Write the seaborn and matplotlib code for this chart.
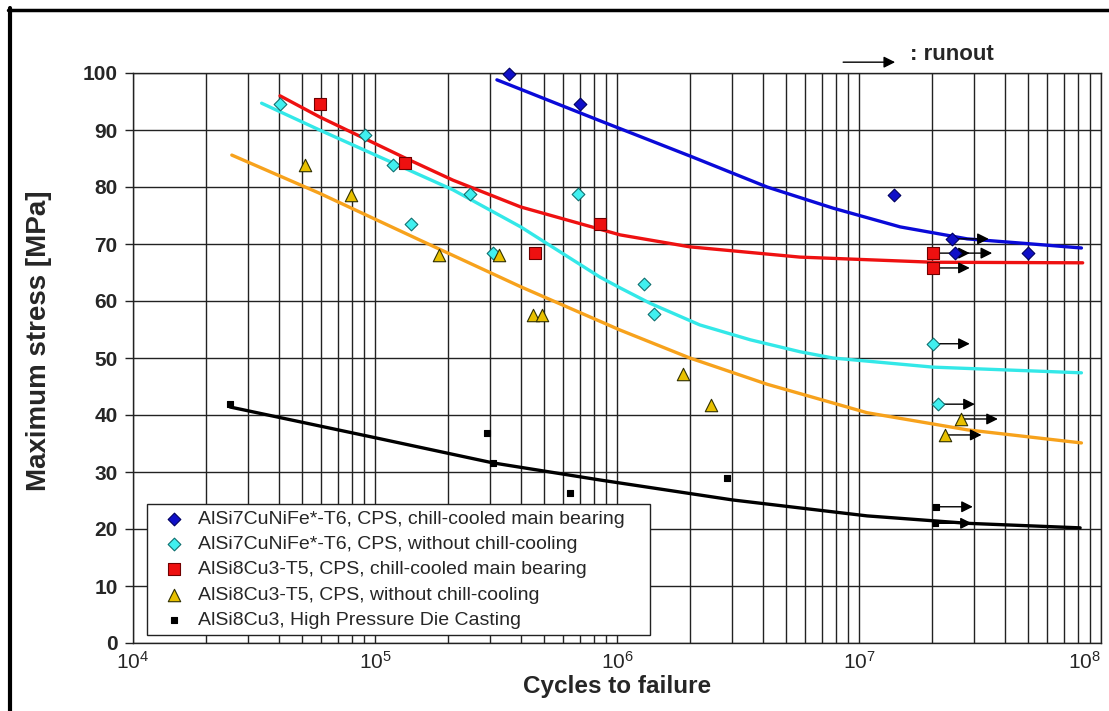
import numpy as np
import pandas as pd
import seaborn as sns
import matplotlib.pyplot as plt
from matplotlib.lines import Line2D

# measured points (cycles, stress [MPa]); runout = test stopped without failure
blue_n = [3.58e5, 7.03e5, 1.40e7, 2.42e7, 2.50e7, 5.0e7]
blue_s = [99.8, 94.6, 78.6, 70.9, 68.4, 68.4]
blue_runout = [False, False, False, True, True, False]

cyan_n = [4.05e4, 9.1e4, 1.19e5, 1.41e5, 2.47e5, 3.07e5, 6.9e5, 1.29e6, 1.42e6, 2.02e7, 2.12e7]
cyan_s = [94.6, 89.1, 83.9, 73.5, 78.8, 68.4, 78.8, 63.0, 57.7, 52.5, 41.9]
cyan_runout = [False] * 9 + [True, True]

red_n = [5.93e4, 1.33e5, 4.58e5, 8.5e5, 2.02e7, 2.02e7]
red_s = [94.6, 84.2, 68.4, 73.5, 68.4, 65.8]
red_runout = [False, False, False, False, True, True]

yel_n = [5.14e4, 7.96e4, 1.84e5, 3.25e5, 4.5e5, 4.9e5, 1.87e6, 2.44e6, 2.64e7, 2.26e7]
yel_s = [83.9, 78.6, 68.1, 68.1, 57.5, 57.5, 47.2, 41.8, 39.3, 36.5]
yel_runout = [False] * 8 + [True, True]

blk_n = [2.52e4, 2.9e5, 3.07e5, 6.4e5, 2.85e6, 2.08e7, 2.06e7]
blk_s = [41.9, 36.8, 31.6, 26.3, 28.9, 23.9, 21.0]
blk_runout = [False] * 5 + [True, True]

# fitted trend curves
blue_fit_n = [3.19e5, 8.3e5, 2.04e6, 4.17e6, 7.8e6, 1.48e7, 2.8e7, 5.2e7, 8.3e7]
blue_fit_s = [98.8, 91.8, 85.3, 80.0, 76.3, 73.0, 70.9, 70.0, 69.3]
red_fit_n = [4.05e4, 5.9e4, 1.33e5, 2.1e5, 4.0e5, 1.03e6, 2.0e6, 5.7e6, 2.02e7, 8.4e7]
red_fit_s = [96.0, 92.3, 85.1, 81.2, 76.5, 71.6, 69.5, 67.7, 66.8, 66.7]
cyan_fit_n = [3.4e4, 5.9e4, 1.12e5, 2.1e5, 4.0e5, 8.5e5, 1.03e6, 1.37e6, 2.2e6, 3.55e6,
              5.7e6, 7.8e6, 2.02e7, 8.3e7]
cyan_fit_s = [94.7, 90.0, 84.7, 79.5, 73.0, 64.2, 62.3, 59.6, 55.8, 53.2,
              51.1, 50.0, 48.4, 47.4]
yel_fit_n = [2.56e4, 5.9e4, 1.53e5, 4.0e5, 1.03e6, 2.0e6, 4.17e6, 1.08e7, 2.8e7, 8.3e7]
yel_fit_s = [85.6, 78.9, 70.7, 62.5, 54.9, 50.0, 45.4, 40.4, 37.4, 35.1]
blk_fit_n = [2.52e4, 9.8e4, 3.07e5, 8.5e5, 3.0e6, 1.08e7, 2.8e7, 8.2e7]
blk_fit_s = [41.4, 36.1, 31.6, 28.6, 25.1, 22.3, 21.0, 20.2]

labels = [
    "AlSi7CuNiFe*-T6, CPS, chill-cooled main bearing",
    "AlSi7CuNiFe*-T6, CPS, without chill-cooling",
    "AlSi8Cu3-T5, CPS, chill-cooled main bearing",
    "AlSi8Cu3-T5, CPS, without chill-cooling",
    "AlSi8Cu3, High Pressure Die Casting",
]

sns.set_theme(style="white")
plt.rcParams["font.family"] = ["Liberation Sans", "DejaVu Sans"]
plt.rcParams["mathtext.fontset"] = "custom"
plt.rcParams["mathtext.rm"] = "Liberation Sans"
plt.rcParams["mathtext.default"] = "regular"

fig = plt.figure(figsize=(11.09, 7.11), dpi=100)
ax = fig.add_axes([133 / 1109, 68 / 711, 968 / 1109, 570 / 711])
ax.set_xscale("log")

# trend lines
fits = [
    (blue_fit_n, blue_fit_s, "#0a0ad8"),
    (cyan_fit_n, cyan_fit_s, "#33e8e8"),
    (red_fit_n, red_fit_s, "#ee1111"),
    (yel_fit_n, yel_fit_s, "#f7a21c"),
    (blk_fit_n, blk_fit_s, "black"),
]
for n, s, c in fits:
    sns.lineplot(x=n, y=s, color=c, lw=2.4, sort=False, legend=False, ax=ax, zorder=3)

series = [
    (blue_n, blue_s, blue_runout, "D", 42, "#1010c8", "#000060"),
    (cyan_n, cyan_s, cyan_runout, "D", 42, "#40f0f0", "#107070"),
    (red_n, red_s, red_runout, "s", 70, "#ee1010", "#700000"),
    (yel_n, yel_s, yel_runout, "^", 80, "#e8c000", "#303000"),
    (blk_n, blk_s, blk_runout, "s", 16, "black", "black"),
]

# runout arrows
for n, s, ro, *_ in series:
    for xi, yi, r in zip(n, s, ro):
        if r:
            ax.annotate("", xy=(xi * 1.42, yi), xytext=(xi, yi),
                        arrowprops=dict(arrowstyle="-|>", color="black", lw=1.0,
                                        mutation_scale=17, shrinkA=0, shrinkB=0),
                        zorder=5)

for (n, s, ro, mk, sz, fc, ec), lab in zip(series, labels):
    df = pd.DataFrame({"cycles": n, "stress": s})
    sns.scatterplot(data=df, x="cycles", y="stress", marker=mk, s=sz, color=fc,
                    edgecolor=ec, linewidth=0.8, label=lab, ax=ax, zorder=6, clip_on=False)

ax.set_xlim(1e4, 1e8)
ax.set_ylim(0, 100)
ax.set_xticks([1e4, 1e5, 1e6, 1e7, 1e8])
ax.set_yticks(np.arange(0, 101, 10))
ax.grid(which="both", axis="x", color="#222222", lw=1.0)
ax.grid(which="major", axis="y", color="#222222", lw=1.0)
ax.set_axisbelow(True)
for sp in ax.spines.values():
    sp.set_color("#222222")
    sp.set_linewidth(1.0)

ax.tick_params(axis="y", which="major", direction="out", length=6, width=1.0,
               color="#222222", left=True, pad=5, labelsize=15)
ax.tick_params(axis="x", which="both", length=0, pad=6, labelsize=15)
for t in ax.get_yticklabels():
    t.set_fontweight("bold")
ax.get_xticklabels()[-1].set_horizontalalignment("right")

ax.set_xlabel("Cycles to failure", fontsize=17.5, fontweight="bold", labelpad=1)
ax.set_ylabel("Maximum stress [MPa]", fontsize=20, fontweight="bold")
ax.yaxis.set_label_coords(-0.084, 0.53)

leg = ax.legend(loc="lower left", bbox_to_anchor=(0.0145, 0.014, 0.52, 0.2), mode="expand",
                borderaxespad=0, fontsize=14, frameon=True, fancybox=False,
                edgecolor="#222222", framealpha=1, borderpad=0.3, labelspacing=0.4,
                handlelength=2.2, handletextpad=0.1, scatterpoints=1)
leg.get_frame().set_linewidth(1.0)
leg.set_zorder(10)

# runout key above the plot
ax.annotate("", xy=(1.41e7, 1.019), xytext=(8.6e6, 1.019),
            xycoords=("data", "axes fraction"), textcoords=("data", "axes fraction"),
            arrowprops=dict(arrowstyle="-|>", color="black", lw=1.0, mutation_scale=17,
                            shrinkA=0, shrinkB=0), annotation_clip=False)
ax.text(1.62e7, 1.032, ": runout", transform=ax.get_xaxis_transform(),
        fontsize=16, fontweight="bold", va="center", ha="left")

# frame of the original figure (left and top)
fig.add_artist(Line2D([9.5 / 1109, 9.5 / 1109], [0, 703 / 711], transform=fig.transFigure,
                      color="black", lw=3))
fig.add_artist(Line2D([8 / 1109, 1], [701.5 / 711, 701.5 / 711], transform=fig.transFigure,
                      color="black", lw=2.5))

fig.savefig("out.png", dpi=100)
